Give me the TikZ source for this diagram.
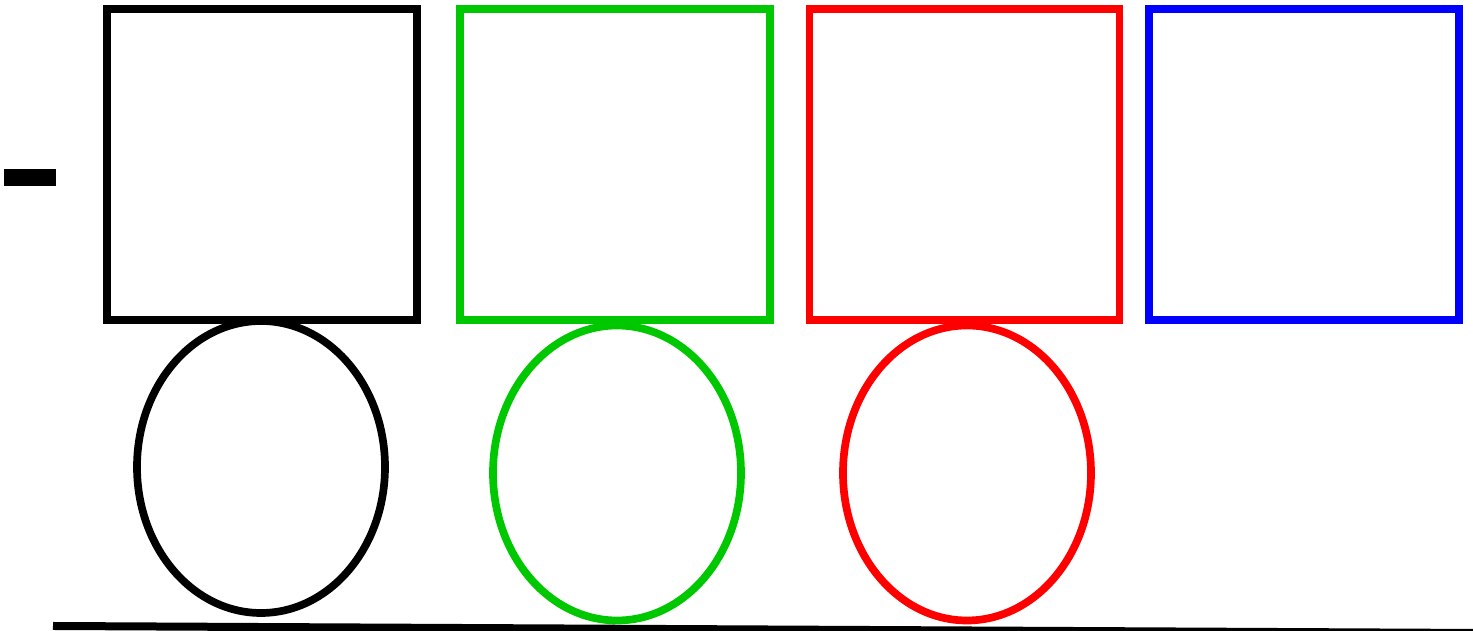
\documentclass[tikz,border=0pt]{standalone}
\usetikzlibrary{shapes.geometric}
\definecolor{boxgreen}{RGB}{0,200,0}
\begin{document}
\begin{tikzpicture}[
			box line/.style={line width=0.154cm},
			sq node/.style={box line, draw, rectangle, minimum width=6.2cm, minimum height=6.22cm, inner sep=0pt},
			el node/.style={box line, draw, ellipse, minimum width=4.96cm, minimum height=5.9cm, inner sep=0pt}
			]
			\useasboundingbox (0,0) rectangle (29.46,12.62);
			% dash on the left
			\fill (0.08,8.9) rectangle (1.12,9.24);
			% top row of squares
			\node[sq node, draw=black] (SqBlack) at (5.24,9.33) {};
			\node[sq node, draw=boxgreen] (SqGreen) at (12.3,9.33) {};
			\node[sq node, draw=red] (SqRed) at (19.29,9.33) {};
			\node[sq node, draw=blue] (SqBlue) at (26.08,9.33) {};
			% ellipses under the squares
			\node[el node, draw=black, minimum height=5.84cm] (ElBlack) at (5.22,3.28) {};
			\node[el node, draw=boxgreen] (ElGreen) at (12.34,3.16) {};
			\node[el node, draw=red] (ElRed) at (19.34,3.16) {};
			% ground line
			\coordinate (GroundL) at (1.06,0.1);
			\coordinate (GroundR) at (29.6,-0.04);
			\draw[line width=0.16cm] (GroundL) -- (GroundR);
		\end{tikzpicture}
\end{document}
